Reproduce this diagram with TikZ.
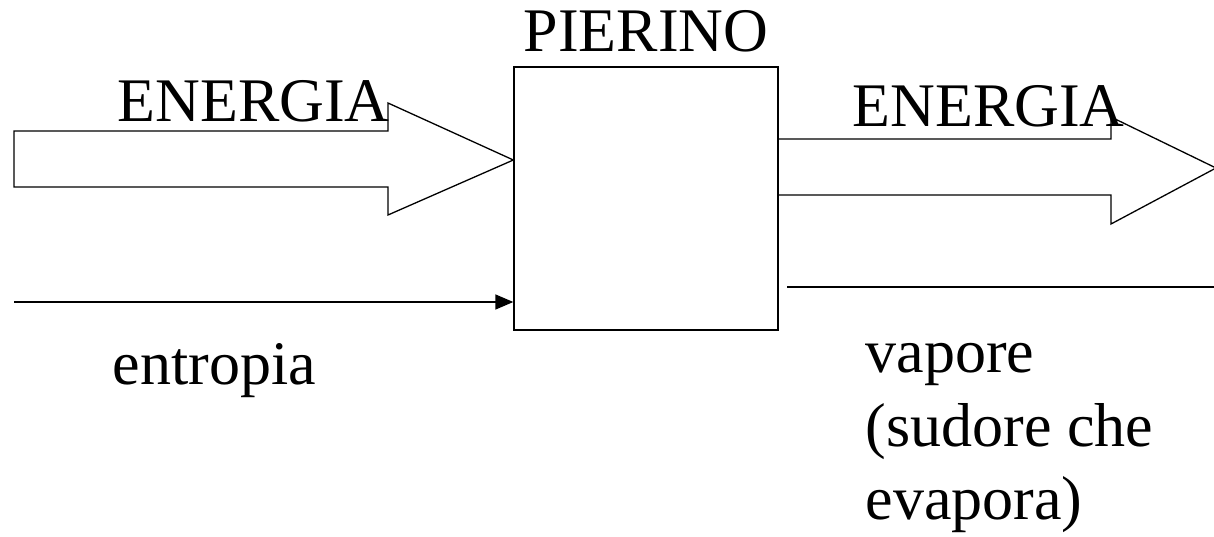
\documentclass[tikz,border=0pt]{standalone}
\usepackage{fontspec}
\setmainfont{Liberation Serif}
\usetikzlibrary{arrows.meta}
\begin{document}
\begin{tikzpicture}[x=1bp,y=-1bp,
  line width=1.3bp,
  lbl/.style={inner sep=0pt,anchor=base west,font=\fontsize{62bp}{73.5bp}\selectfont},
  flow/.style={draw,line join=miter}]
\useasboundingbox (0,0) rectangle (1214,537);
\clip (0,0) rectangle (1214,537);
% central system box
\node[draw,inner sep=0pt,minimum width=264bp,minimum height=263bp] (box) at (646,198.5) {};
\node[lbl] (name) at (523,52) {PIERINO};
% incoming energy block arrow
\coordinate (inTip) at (box.west |- 0,160);
\draw[flow] (14,131) -- (388,131) -- (388,103) -- (inTip) -- (388,215) -- (388,187) -- (14,187) -- cycle;
\node[lbl] (ein) at (117,122) {ENERGIA};
% outgoing energy block arrow
\coordinate (outTop) at (box.east |- 0,139);
\coordinate (outBot) at (box.east |- 0,195);
\draw[flow] (outTop) -- (1111,139) -- (1111,117) -- (1216,168) -- (1111,224) -- (1111,195) -- (outBot);
\node[lbl] (eout) at (852,127) {ENERGIA};
% entropy entering
\coordinate (sIn) at (14,302);
\draw[-{Triangle[length=18bp,width=15bp]}] (sIn) -- (box.west |- sIn);
\node[lbl] (ent) at (112,385) {entropia};
% vapour leaving
\coordinate (vA) at (787,287);
\coordinate (vB) at (1216,287);
\draw (vA) -- (vB);
\node[lbl,align=left,anchor=north west] (vap) at (865,343) {vapore\\(sudore che\\evapora)};
\end{tikzpicture}
\end{document}
